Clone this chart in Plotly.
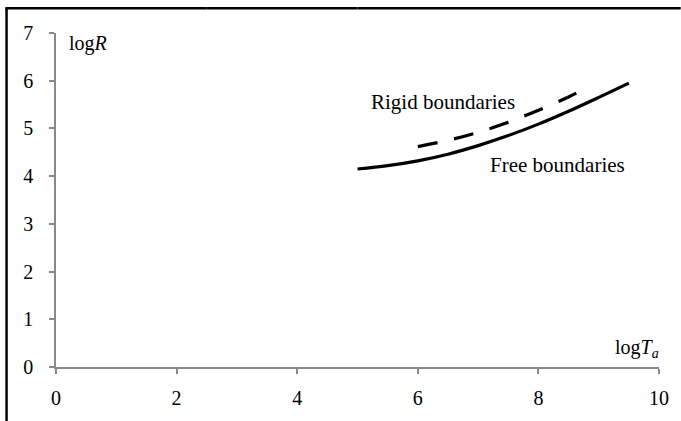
import plotly.graph_objects as go

free_x = [5.0, 5.5, 6.0, 6.5, 7.0, 7.5, 8.0, 8.5, 9.0, 9.5]
free_y = [4.15, 4.22, 4.32, 4.46, 4.64, 4.85, 5.09, 5.36, 5.65, 5.95]
rigid_x = [6.0, 6.5, 7.0, 7.5, 8.0, 8.5, 8.85]
rigid_y = [4.62, 4.75, 4.92, 5.13, 5.38, 5.66, 5.88]
x_ticks = [0, 2, 4, 6, 8, 10]
y_ticks = [0, 1, 2, 3, 4, 5, 6, 7]

FONT = "Liberation Serif"
AX = "#898989"
XS, YS = 60.3, 48.29

def px(xp, yp):
    return (xp - 56) / XS, (371 - yp) / YS

fig = go.Figure()
fig.add_trace(go.Scatter(x=free_x, y=free_y, mode="lines",
                         line=dict(color="black", width=3.2, shape="spline", smoothing=1.0), showlegend=False))
fig.add_trace(go.Scatter(x=rigid_x, y=rigid_y, mode="lines",
                         line=dict(color="black", width=3.2, dash="20px,17px", shape="spline", smoothing=1.0), showlegend=False))

annots = []
for txt, xp, yp, sz in [("Rigid boundaries", 443, 103, 21), ("Free boundaries", 557, 167, 21),
                        ("log<i>R</i>", 88, 44, 20), ("log<i>T</i><sub><i>a</i></sub>", 637, 352, 20)]:
    x, y = px(xp, yp)
    annots.append(dict(text=txt, x=x, y=y, xref="x", yref="y", showarrow=False,
                       font=dict(family=FONT, size=sz, color="black")))

top_segments = [(-0.084, 0.0), (0.0, 0.25), (0.25, 0.5), (0.5, 1.036)]
shapes = [dict(type="line", xref="paper", yref="paper", x0=-0.082, x1=-0.082, y0=-0.4, y1=1.075,
               line=dict(color="black", width=2.5))]
for a, b in top_segments:
    shapes.append(dict(type="line", xref="paper", yref="paper", x0=a, x1=b, y0=1.074, y1=1.074,
                       line=dict(color="black", width=2.5)))

fig.update_layout(
    width=681, height=421,
    margin=dict(l=56, r=22, t=33, b=50),
    paper_bgcolor="white", plot_bgcolor="white",
    font=dict(family=FONT, size=20, color="black"),
    xaxis=dict(range=[0, 10], tickvals=x_ticks, showgrid=False, zeroline=False,
               showline=True, linecolor=AX, linewidth=1.5, ticks="outside", tickcolor=AX,
               ticklen=5, tickwidth=1.5, ticklabelstandoff=7,
               tickfont=dict(family=FONT, size=20, color="black")),
    yaxis=dict(range=[0, 7], tickvals=y_ticks, showgrid=False, zeroline=False,
               showline=True, linecolor=AX, linewidth=1.5, ticks="outside", tickcolor=AX,
               ticklen=5, tickwidth=1.5, ticklabelstandoff=12,
               tickfont=dict(family=FONT, size=20, color="black")),
    shapes=shapes,
    annotations=annots,
)
fig.write_html("out.html")
